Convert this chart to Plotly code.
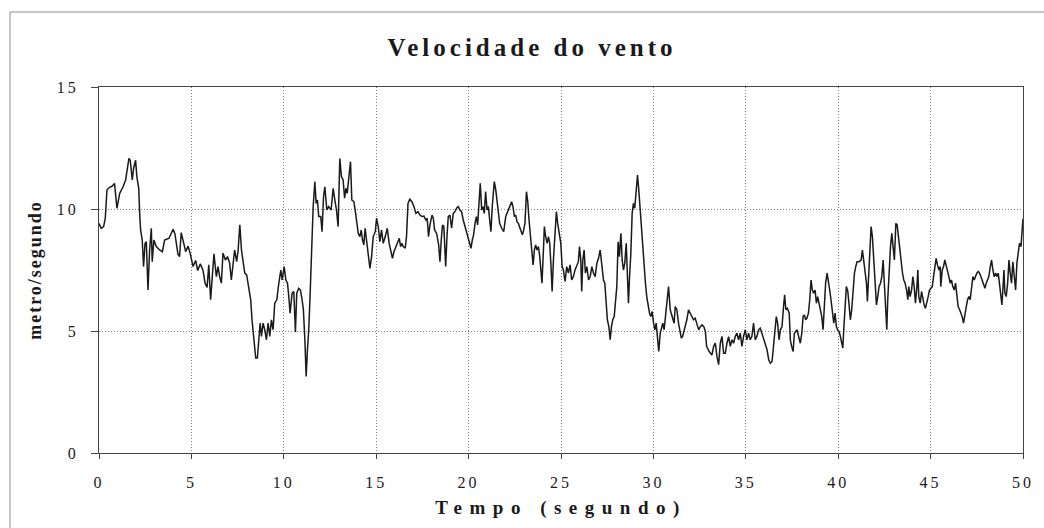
import plotly.graph_objects as go

# ---- data ----
tempo = [
 0.00,0.12,0.25,0.34,0.43,0.57,0.72,0.84,0.97,1.12,1.30,1.44,1.55,1.62,1.69,1.80,1.87,1.98,2.05,2.15,
 2.20,2.25,2.34,2.41,2.49,2.56,2.65,2.74,2.83,2.88,2.97,3.10,3.28,3.43,3.55,3.79,4.01,4.11,4.27,4.36,
 4.45,4.58,4.69,4.82,4.94,5.09,5.23,5.34,5.48,5.63,5.74,5.85,5.94,6.04,6.13,6.22,
 6.35,6.44,6.53,6.62,6.71,6.84,6.95,7.07,7.16,7.27,7.34,7.45,7.53,7.62,7.71,7.81,7.89,7.99,8.10,8.21,
 8.28,8.39,8.48,8.57,8.64,8.72,8.79,8.88,8.97,9.06,9.15,9.24,9.33,9.42,9.51,9.62,9.73,9.84,9.91,10.02,
 10.11,10.20,10.27,10.34,10.45,10.54,10.63,10.70,10.81,10.90,10.99,11.06,11.14,11.21,11.28,11.35,11.42,
 11.50,11.59,11.68,11.75,11.82,11.89,12.00,12.07,12.15,12.22,12.33,12.43,
 12.56,12.67,12.76,12.85,12.94,13.03,13.12,13.21,13.29,13.36,13.43,13.54,13.61,13.68,13.79,13.86,13.94,
 14.03,14.12,14.19,14.26,14.33,14.40,14.48,14.57,14.66,14.75,14.84,14.95,15.02,15.11,15.20,15.29,15.38,
 15.49,15.60,15.70,15.78,15.88,15.96,16.07,16.17,16.25,16.32,16.39,16.46,16.57,16.64,16.72,16.82,16.93,
 17.04,17.15,17.26,17.37,17.47,17.58,17.69,17.76,17.83,17.91,18.02,18.09,18.16,18.27,18.38,18.45,18.52,
 18.59,18.66,
 18.69,18.76,18.83,18.90,18.99,19.08,19.17,19.26,19.35,19.44,19.53,19.62,19.71,19.80,19.89,19.99,20.06,
 20.13,20.20,20.27,20.35,20.42,20.49,20.56,20.63,20.71,20.78,20.85,20.92,21.00,21.07,21.14,21.21,21.28,
 21.39,21.47,21.54,21.61,21.68,21.79,21.90,22.01,22.11,22.22,22.33,22.40,22.48,22.55,22.62,22.69,22.76,
 22.84,22.91,22.98,23.05,23.13,23.20,23.27,23.34,23.41,23.49,23.56,23.63,23.70,23.78,23.85,23.92,23.97,
 24.05,24.10,24.17,24.25,24.32,24.39,24.46,24.52,24.59,24.68,24.75,24.82,24.89,
 24.92,24.99,25.06,25.13,25.22,25.31,25.40,25.49,25.58,25.67,25.76,25.85,25.94,26.00,26.07,26.12,26.18,
 26.25,26.32,26.40,26.49,26.58,26.67,26.76,26.85,26.94,27.03,27.12,27.21,27.30,27.37,27.44,27.51,27.59,
 27.66,27.73,27.80,27.88,27.95,28.02,28.09,28.16,28.24,28.31,28.38,28.45,28.53,28.60,28.65,28.71,28.78,
 28.85,28.92,28.99,29.07,29.14,29.21,29.28,29.36,29.43,29.50,29.57,29.64,29.72,29.79,29.86,29.93,30.01,
 30.08,30.15,30.22,30.29,30.37,30.44,30.51,30.58,30.66,30.73,30.82,30.91,31.02,31.12,
 31.18,31.27,31.36,31.43,31.51,31.58,31.65,31.72,31.81,31.90,31.99,32.08,32.17,32.26,32.35,32.45,32.54,
 32.63,32.73,32.81,32.88,32.95,33.02,33.09,33.17,33.26,33.35,33.44,33.53,33.62,33.71,33.80,33.89,33.98,
 34.07,34.16,34.25,34.34,34.43,34.52,34.61,34.70,34.79,34.88,34.97,35.06,35.15,35.24,35.33,35.42,35.51,
 35.60,35.69,35.78,35.87,35.96,36.06,36.15,36.24,36.33,36.42,36.51,36.60,36.65,36.72,36.80,36.87,36.96,
 37.03,37.10,37.17,37.25,37.35,
 37.41,37.48,37.56,37.63,37.70,37.77,37.86,37.95,38.03,38.10,38.17,38.24,38.31,38.39,38.46,38.53,38.60,
 38.67,38.75,38.82,38.89,38.96,39.04,39.11,39.18,39.25,39.32,39.40,39.47,39.54,39.61,39.69,39.76,39.83,
 39.90,39.97,40.05,40.12,40.19,40.25,40.30,40.37,40.44,40.52,40.59,40.66,40.73,40.81,40.88,40.95,41.02,
 41.13,41.24,41.31,41.38,41.45,41.53,41.58,41.64,41.71,41.78,41.85,41.92,42.00,42.07,42.14,42.21,42.29,
 42.36,42.43,42.50,42.57,42.63,42.68,42.75,42.83,42.90,42.97,43.04,43.12,43.19,43.26,43.33,43.40,43.48,
 43.55,43.62,
 43.71,43.77,43.82,43.89,43.97,44.04,44.11,44.18,44.26,44.31,44.36,44.44,44.51,44.58,44.65,44.72,44.80,
 44.87,44.94,45.01,45.09,45.16,45.23,45.30,45.37,45.45,45.52,45.55,45.63,45.70,45.77,45.84,45.92,45.99,
 46.06,46.13,46.20,46.28,46.35,46.42,46.49,46.57,46.64,46.71,46.78,46.85,46.93,47.00,47.07,47.14,47.22,
 47.29,47.36,47.43,47.50,47.58,47.65,47.72,47.79,47.87,47.94,48.01,48.08,48.15,48.23,48.30,48.37,48.44,
 48.52,48.59,48.66,48.73,48.80,48.86,48.91,48.97,49.02,49.09,49.17,49.24,49.31,49.38,49.45,49.53,49.60,
 49.67,49.74,49.81,49.89,49.96,50.00,
]

velocidade = [
 9.41,9.21,9.28,9.62,10.78,10.89,10.94,11.05,10.03,10.64,10.91,11.19,11.73,12.07,12.00,11.19,11.66,12.00,11.32,10.85,
 9.82,9.14,8.73,7.64,8.59,8.66,6.68,8.32,9.21,7.84,8.73,8.46,8.32,8.25,8.73,8.80,9.17,8.98,8.16,8.05,
 9.03,8.57,8.25,8.48,8.16,7.64,7.89,7.48,7.75,7.48,6.96,6.79,7.71,6.28,7.23,8.16,
 7.23,7.64,7.23,6.96,8.19,7.91,8.05,7.78,7.09,7.98,8.32,7.84,8.32,9.35,8.32,7.78,7.37,7.30,6.68,6.28,
 5.46,4.50,3.89,3.89,4.50,5.32,4.78,5.32,5.05,4.64,5.32,4.78,5.46,5.05,6.14,6.28,6.96,7.50,7.09,7.64,
 7.09,6.96,6.41,5.73,6.55,6.62,4.96,6.55,6.75,6.68,6.28,5.87,4.64,3.14,4.23,5.05,6.41,
 8.32,10.10,11.12,10.23,10.37,9.69,9.69,9.07,10.50,10.91,9.96,10.10,
 9.96,10.85,10.37,9.96,9.28,12.07,11.32,11.19,10.44,10.85,10.64,11.53,11.94,10.37,10.30,9.96,9.41,
 9.00,8.87,9.14,8.73,8.53,9.21,8.66,8.19,7.57,8.05,8.87,9.07,9.62,9.28,8.66,9.14,8.59,
 8.87,9.21,8.59,8.32,7.98,8.25,8.46,8.66,8.80,8.46,8.59,8.46,8.39,8.87,10.23,10.40,10.30,
 10.10,9.82,9.89,9.75,9.69,9.71,9.55,9.62,8.87,9.35,9.75,9.62,9.14,9.00,8.53,7.84,8.73,
 9.35,9.28,
 8.73,7.64,8.87,9.69,9.75,9.21,9.82,9.89,10.03,10.10,9.96,9.89,9.55,9.28,9.00,8.80,8.59,
 8.39,8.73,8.94,9.41,9.69,9.35,10.03,11.05,9.96,10.10,9.82,10.71,9.96,10.10,9.55,9.07,10.10,
 11.12,10.78,10.37,9.82,9.41,9.21,9.07,9.69,9.89,10.03,10.30,10.10,9.69,9.75,9.48,9.41,9.28,
 9.14,8.94,9.14,9.41,10.71,10.30,9.55,9.00,8.59,7.71,8.32,8.53,8.32,8.46,8.05,7.50,6.96,
 8.32,9.28,8.87,8.59,8.87,8.59,7.64,6.62,7.91,9.28,9.89,9.41,9.00,
 8.87,8.59,7.64,7.50,7.03,7.64,7.37,7.71,7.09,7.23,7.50,7.64,7.84,8.46,7.91,6.62,7.91,
 8.32,7.37,7.64,7.09,7.23,7.64,7.37,7.23,7.78,7.98,8.32,7.78,7.09,6.96,6.14,5.46,5.18,
 4.64,5.18,5.46,5.59,6.14,6.82,8.66,8.05,9.00,7.91,7.50,7.78,8.59,7.50,6.14,7.23,8.19,
 9.82,10.23,10.03,10.78,11.39,10.78,10.03,8.87,8.05,7.37,6.96,6.41,5.93,5.73,5.59,5.80,5.32,
 5.05,5.32,4.78,4.16,4.91,5.18,5.32,5.05,5.59,6.00,6.82,5.87,5.59,5.32,
 6.00,5.87,5.32,5.05,4.71,4.78,4.98,5.18,5.46,5.87,5.73,5.53,5.46,5.53,5.32,5.05,5.18,
 5.25,5.18,4.98,4.37,4.23,4.16,4.09,4.02,4.37,4.50,3.96,3.62,4.50,4.78,4.09,4.09,4.50,
 4.77,4.37,4.64,4.50,4.78,4.91,4.64,4.91,4.37,4.78,5.05,4.64,4.91,4.64,4.78,5.32,4.64,
 4.78,5.05,5.12,4.91,4.64,4.37,4.23,3.82,3.68,3.75,4.50,5.18,5.59,5.32,4.64,5.05,5.18,
 5.87,6.48,5.87,5.93,5.73,
 4.64,4.37,4.16,4.91,4.98,5.05,4.77,4.50,4.91,5.59,5.66,5.46,5.53,5.73,6.28,7.09,6.68,
 6.55,6.68,6.14,6.41,6.14,5.87,5.59,5.05,6.14,6.96,7.37,7.09,6.68,6.28,5.73,5.32,5.73,
 5.18,5.05,4.98,4.77,4.50,4.30,5.05,6.14,6.82,6.62,5.87,5.46,5.87,6.68,7.37,7.64,7.84,
 7.84,7.91,8.32,7.91,7.37,6.96,6.21,7.23,8.32,9.28,8.87,8.05,6.96,6.07,6.41,6.82,6.96,
 7.23,7.91,6.96,5.87,5.05,6.28,7.37,8.46,9.00,8.32,7.91,9.41,9.35,8.87,8.32,7.78,7.37,
 7.09,6.96,
 6.62,6.28,6.82,6.41,6.68,7.23,6.82,6.14,6.82,7.50,6.41,6.14,6.62,6.28,6.07,5.93,6.14,
 6.41,6.68,6.75,6.82,7.23,7.64,7.98,7.71,7.50,7.64,6.82,7.50,7.64,7.91,7.71,7.50,7.23,
 6.96,7.09,6.82,6.68,6.96,6.41,6.00,5.87,5.73,5.59,5.32,5.73,6.00,6.28,6.41,6.28,6.68,
 7.23,7.09,7.23,7.37,7.44,7.37,7.23,7.09,6.96,6.75,6.96,7.09,7.23,7.64,7.91,7.50,7.23,
 7.37,7.23,7.37,6.96,6.41,6.07,6.68,7.50,6.55,6.41,6.96,7.91,7.37,6.96,7.84,7.23,6.68,
 7.78,8.19,8.59,8.46,9.55,9.60,
]

titulo = "Velocidade do vento"
titulo_x = "Tempo (segundo)"
titulo_y = "metro/segundo"
x_ticks = [0, 5, 10, 15, 20, 25, 30, 35, 40, 45, 50]
y_ticks = [0, 5, 10, 15]

SERIF = "Liberation Serif, Times New Roman, serif"

fig = go.Figure()
fig.add_trace(go.Scatter(
    x=tempo, y=velocidade, mode="lines",
    line=dict(color="#1a1a1a", width=1.5),
    showlegend=False, hoverinfo="skip",
))

ML, MR, MT, MB = 99, 21, 87, 75
W, H = 1044, 528
pw, ph = W - ML - MR, H - MT - MB

fig.update_layout(
    width=W, height=H,
    margin=dict(l=ML, r=MR, t=MT, b=MB),
    paper_bgcolor="white", plot_bgcolor="white",
    title=dict(text=titulo, xref="container", x=532 / W, xanchor="center",
               yref="container", y=1 - 47 / H, yanchor="middle",
               font=dict(family=SERIF, size=25, color="#1a1a1a", weight="bold")),
    font=dict(family=SERIF, color="#1a1a1a"),
    xaxis=dict(range=[0, 50], tickvals=x_ticks, ticktext=[str(v) for v in x_ticks],
               showgrid=True, gridcolor="#808080", griddash="1px,2px", gridwidth=1,
               zeroline=False, showline=True, linecolor="#444", linewidth=1, mirror=True,
               ticks="outside", ticklen=5, tickcolor="#444", ticklabelstandoff=10,
               tickfont=dict(family=SERIF, size=16, color="#1a1a1a"),
               title=dict(text=titulo_x, standoff=10,
                          font=dict(family=SERIF, size=19, color="#1a1a1a", weight="bold"))),
    yaxis=dict(range=[0, 15], tickvals=y_ticks, ticktext=[str(v) for v in y_ticks],
               showgrid=True, gridcolor="#808080", griddash="1px,2px", gridwidth=1,
               zeroline=False, showline=True, linecolor="#444", linewidth=1, mirror=True,
               ticks="outside", ticklen=7, tickcolor="#444", ticklabelstandoff=9,
               tickfont=dict(family=SERIF, size=16, color="#1a1a1a"),
               title=dict(text=titulo_y, standoff=16,
                          font=dict(family=SERIF, size=18, color="#1a1a1a", weight="bold"))),
)

# outer chart frame (left and top edges visible in the reference)
fig.add_shape(type="rect", xref="paper", yref="paper",
              x0=(10 - ML) / pw, x1=(1048 - ML) / pw,
              y0=(MT + ph - 532) / ph, y1=(MT + ph - 12) / ph,
              line=dict(color="#8c8c8c", width=1), fillcolor="rgba(0,0,0,0)", layer="below")

post = """
document.body.style.margin = '0';
document.body.style.padding = '0';
var gd = document.getElementById('{plot_id}');
function ls(){
  gd.querySelectorAll('.gtitle').forEach(function(e){e.style.letterSpacing='4px';});
  gd.querySelectorAll('.xtitle').forEach(function(e){e.style.letterSpacing='7.5px';});
  gd.querySelectorAll('.ytitle').forEach(function(e){e.style.letterSpacing='2px';});
  gd.querySelectorAll('.xtick text, .ytick text').forEach(function(e){e.style.letterSpacing='3px';});
}
ls();
gd.on('plotly_afterplot', ls);
"""
fig.write_html("out.html", post_script=post, config={"displayModeBar": False})
